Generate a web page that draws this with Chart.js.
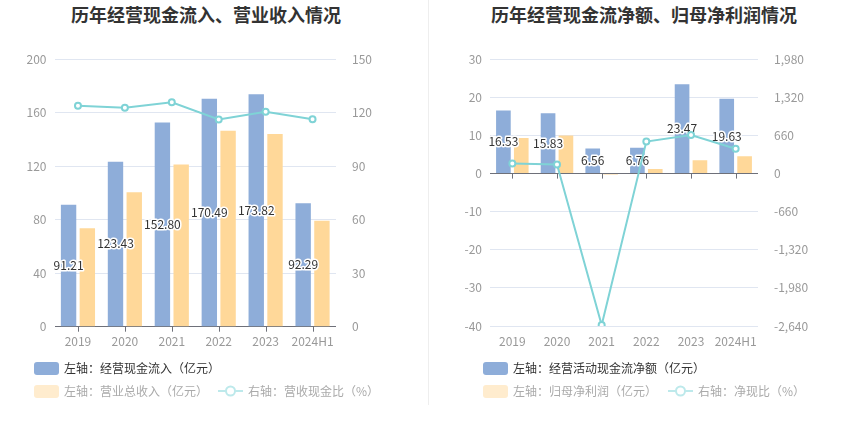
<!DOCTYPE html>
<html>
<head>
<meta charset="utf-8">
<script src="https://cdn.jsdelivr.net/npm/chart.js@4.4.1/dist/chart.umd.min.js"></script>
<style>
body{margin:0;width:850px;height:437px;background:#fff;position:relative;overflow:hidden;
  font-family:"Noto Sans CJK SC","Noto Sans",sans-serif;}
.title{position:absolute;top:3px;font-size:18px;font-weight:bold;color:#333;white-space:nowrap;
  line-height:22px;transform:translateX(-50%);}
.box{position:absolute;top:0;height:360px;}
.divider{position:absolute;left:428px;top:0;width:1px;height:405px;background:#eeeeee;}
.lg{position:absolute;font-size:12px;line-height:16px;white-space:nowrap;}
.sw{position:absolute;width:25px;height:13px;border-radius:3px;}
.ic{position:absolute;width:25px;height:14px;}
</style>
</head>
<body>
<div class="title" style="left:206px">历年经营现金流入、营业收入情况</div>
<div class="title" style="left:644px">历年经营现金流净额、归母净利润情况</div>
<div class="divider"></div>

<div class="box" style="left:0;width:428px"><canvas id="c1"></canvas></div>
<div class="box" style="left:428px;width:422px"><canvas id="c2"></canvas></div>

<!-- legends -->
<div class="sw" style="left:34px;top:362px;background:#8eadd9"></div>
<div class="lg" style="left:64px;top:360px;color:#333">左轴：经营现金流入（亿元）</div>
<div class="sw" style="left:34px;top:385px;background:#ffecce"></div>
<div class="lg" style="left:64px;top:383px;color:#aaa">左轴：营业总收入（亿元）</div>
<svg class="ic" style="left:218px;top:384px" viewBox="0 0 25 14"><line x1="0" y1="7" x2="25" y2="7" stroke="#bde9eb" stroke-width="2"/><circle cx="12.5" cy="7" r="4.5" fill="#fff" stroke="#bde9eb" stroke-width="2"/></svg>
<div class="lg" style="left:248px;top:383px;color:#aaa">右轴：营收现金比（%）</div>

<div class="sw" style="left:483px;top:362px;background:#8eadd9"></div>
<div class="lg" style="left:513px;top:360px;color:#333">左轴：经营活动现金流净额（亿元）</div>
<div class="sw" style="left:483px;top:385px;background:#ffecce"></div>
<div class="lg" style="left:513px;top:383px;color:#aaa">左轴：归母净利润（亿元）</div>
<svg class="ic" style="left:668px;top:384px" viewBox="0 0 25 14"><line x1="0" y1="7" x2="25" y2="7" stroke="#bde9eb" stroke-width="2"/><circle cx="12.5" cy="7" r="4.5" fill="#fff" stroke="#bde9eb" stroke-width="2"/></svg>
<div class="lg" style="left:698px;top:383px;color:#aaa">右轴：净现比（%）</div>

<script>
const years = ['2019','2020','2021','2022','2023','2024H1'];

// left chart
const cashInflow = [91.21,123.43,152.80,170.49,173.82,92.29];
const revenue    = [73.6,100.5,121.4,146.6,144.1,79.3];
const cashRatio  = [123.9,122.8,125.9,116.3,120.6,116.4];

// right chart
const netCashFlow  = [16.53,15.83,6.56,6.76,23.47,19.63];
const netProfit    = [9.36,9.97,-0.25,1.22,3.50,4.55];
const netCashRatio = [176.6,158.8,-2624,554,670,431];

const BLUE='#8eadd9', YELLOW='#ffd899', TEAL='#7fd3d6';
const AXIS='#6e7079', GRID='#e0e6f1', TICK='#999';
const FONT='"Noto Sans CJK SC","Noto Sans",sans-serif';

Chart.defaults.font.family = FONT;
Chart.defaults.animation = false;

// value labels in the middle of the blue bars, drawn before the line
const barLabels = {
  id:'barLabels',
  afterDatasetDraw(chart,args){
    if(args.index!==0) return;   // blue bars are drawn after the yellow ones
    const ctx=chart.ctx, meta=chart.getDatasetMeta(0);
    ctx.save();
    ctx.font='12px '+FONT;
    ctx.textAlign='center'; ctx.textBaseline='middle';
    ctx.lineJoin='round';
    meta.data.forEach((bar,i)=>{
      const v=chart.data.datasets[0].data[i];
      const y=(bar.y+bar.base)/2;
      ctx.lineWidth=3; ctx.strokeStyle='#fff';
      ctx.strokeText(v.toFixed(2),bar.x,y);
      ctx.fillStyle='#333';
      ctx.fillText(v.toFixed(2),bar.x,y);
    });
    ctx.restore();
  }
};

// small ticks under the zero axis line
const zeroTicks = {
  id:'zeroTicks',
  beforeDatasetsDraw(chart){
    const ctx=chart.ctx, x=chart.scales.x, y0=chart.scales.y.getPixelForValue(0);
    ctx.save();
    ctx.strokeStyle=AXIS; ctx.lineWidth=1;
    ctx.beginPath();
    x.ticks.forEach((t,i)=>{
      const px=Math.round(x.getPixelForTick(i))+0.5;
      ctx.moveTo(px,y0); ctx.lineTo(px,y0+5);
    });
    ctx.stroke();
    ctx.restore();
  }
};

function makeChart(id,opt){
  const fmt = v => v.toLocaleString('en-US');
  return new Chart(document.getElementById(id),{
    data:{
      labels:years,
      datasets:[
        {type:'bar',data:opt.bar1,backgroundColor:BLUE,yAxisID:'y',order:2,
         categoryPercentage:0.8,barPercentage:0.82},
        {type:'bar',data:opt.bar2,backgroundColor:YELLOW,yAxisID:'y',order:3,
         categoryPercentage:0.8,barPercentage:0.82},
        {type:'line',data:opt.line,yAxisID:'y1',order:1,borderColor:TEAL,borderWidth:2,
         pointRadius:3,pointBorderWidth:2,pointBackgroundColor:'#fff',pointBorderColor:TEAL,
         tension:0}
      ]
    },
    options:{
      responsive:true,maintainAspectRatio:false,
      layout:{padding:{top:59.3,left:0,right:0,bottom:0}},
      plugins:{legend:{display:false},tooltip:{enabled:false}},
      scales:{
        x:{
          grid:{display:false},border:{display:false},
          ticks:{color:TICK,font:{size:12},padding:0,maxRotation:0,autoSkip:false},
          afterFit(s){s.height=opt.xh;}
        },
        y:{
          position:'left',min:opt.ymin,max:opt.ymax,
          ticks:{stepSize:opt.ystep,color:TICK,font:{size:12},padding:8,callback:fmt},
          grid:{drawTicks:false,color:c=>c.tick.value===0?AXIS:GRID},
          border:{display:false},
          afterFit(s){s.width=opt.yw;}
        },
        y1:{
          position:'right',min:opt.y1min,max:opt.y1max,
          ticks:{stepSize:opt.y1step,color:TICK,font:{size:12},padding:8,callback:fmt},
          grid:{display:false},border:{display:false},
          afterFit(s){s.width=92;}
        }
      }
    },
    plugins:[barLabels,zeroTicks]
  });
}

makeChart('c1',{bar1:cashInflow,bar2:revenue,line:cashRatio,
  ymin:0,ymax:200,ystep:40,y1min:0,y1max:150,y1step:30,yw:54.5,xh:33.3});
makeChart('c2',{bar1:netCashFlow,bar2:netProfit,line:netCashRatio,
  ymin:-40,ymax:30,ystep:10,y1min:-2640,y1max:1980,y1step:660,yw:62,xh:34});
</script>
</body>
</html>
